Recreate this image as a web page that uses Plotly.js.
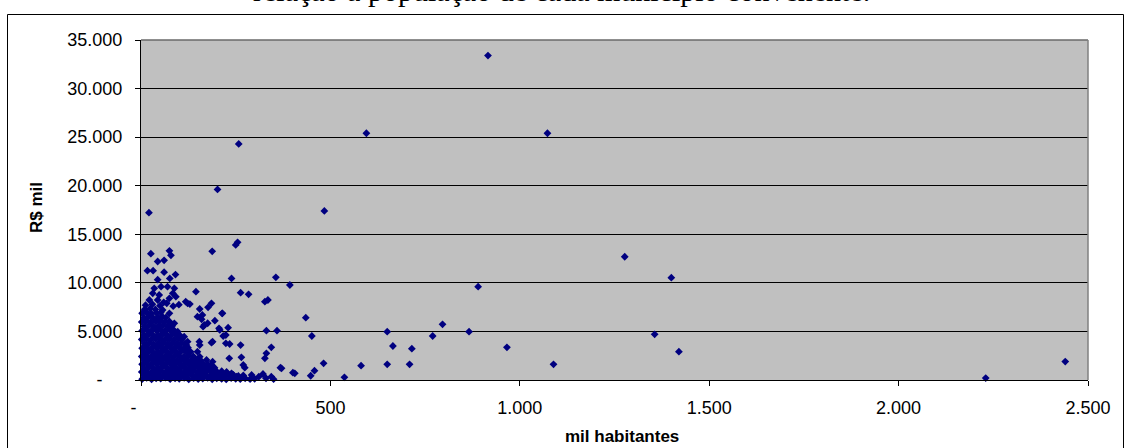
<!DOCTYPE html>
<html>
<head>
<meta charset="utf-8">
<script src="https://cdn.plot.ly/plotly-3.0.1.min.js"></script>
<style>
html,body{margin:0;padding:0;background:#fff;}
#chart{width:1124px;height:448px;}
</style>
</head>
<body>
<div id="chart"></div>
<script>
// Population (thousand inhabitants) of each municipality - dense cluster near origin
const popCluster = [
3,15,28,40,52,65,77,90,101,114,126,139,151,163,176,188,200,213,225,238,250,262,275,288,300,330,350,
9,21,34,46,58,71,83,96,108,120,132,145,157,170,182,194,207,219,232,244,257,270,
2,14,27,39,52,64,76,89,101,113,126,138,150,163,175,187,200,213,226,
8,20,33,45,57,70,82,94,107,119,131,144,156,168,181,194,
3,15,27,40,52,64,77,89,101,114,126,138,151,163,176,
9,21,33,46,58,70,83,95,107,120,132,145,157,
2,14,26,39,51,63,76,88,100,113,125,138,
8,20,32,45,57,69,82,94,106,119,131,
3,15,27,40,52,64,77,89,101,114,124,
9,21,33,46,58,70,83,95,107,116,
2,14,26,39,51,63,76,88,100,108,
8,20,32,45,57,69,82,94,101,
3,15,27,40,52,64,77,88,
9,21,33,46,58,70,82,
2,14,26,39,51,63,75,
8,20,32,45,57,66,
3,15,27,40,52,
10,24,38
];
// Amount (R$ thousand) for the dense cluster
const valCluster = [
90,210,60,180,140,240,80,170,120,220,60,190,100,150,230,70,180,110,60,200,130,80,170,90,120,180,90,
460,520,410,560,480,430,540,470,510,420,570,450,500,530,440,490,560,430,480,520,410,470,
830,900,790,870,940,810,880,850,920,780,860,900,820,880,940,800,860,910,830,
1220,1290,1180,1260,1330,1200,1270,1240,1300,1190,1260,1310,1230,1280,1200,1260,
1620,1690,1600,1660,1720,1630,1680,1610,1700,1650,1620,1690,1640,1700,1610,
2030,2090,2010,2070,2110,2040,2080,2020,2100,2050,2010,2080,2040,
2420,2490,2400,2470,2510,2430,2480,2440,2500,2410,2470,2440,
2870,2930,2850,2910,2960,2880,2920,2860,2940,2890,2900,
3280,3340,3260,3320,3360,3290,3330,3270,3350,3300,3320,
3720,3780,3700,3760,3800,3730,3770,3710,3790,3740,
4170,4230,4150,4210,4250,4180,4220,4160,4240,4200,
4620,4690,4600,4660,4700,4630,4680,4610,4660,
5070,5140,5050,5110,5150,5080,5130,5090,
5520,5590,5500,5560,5600,5530,5570,
5970,6040,5950,6010,6050,5980,6020,
6420,6490,6400,6460,6500,6440,
6870,6940,6850,6910,6950,
7280,7350,7260
];
// Remaining (individually visible) municipalities
const popSpread = [
21,202,258,595,1073,916,484,255,250,188,26,75,79,44,61,17,32,61,91,76,44,239,356,393,
35,53,70,88,31,48,84,22,44,75,92,145,118,129,186,177,155,263,284,327,335,
12,30,50,68,85,100,60,214,162,149,160,195,176,167,164,230,206,208,217,224,331,359,
114,123,154,189,186,224,234,263,120,155,344,331,327,265,233,149,155,173,189,186,164,138,
270,274,368,195,213,239,252,292,311,322,344,401,371,406,448,458,482,537,581,
650,665,650,715,709,770,796,866,890,966,1089,1277,1400,1356,1420,435,451,2230,2440,
97,75,57,88,123,215
];
const valSpread = [
17220,19620,24300,25400,25400,33400,17400,14170,13900,13250,13000,13300,12830,12200,12320,11250,11250,11100,10850,10460,10330,10460,10570,9780,
9440,9610,9610,9440,8920,8750,8920,8235,8235,8410,8580,9090,8060,7820,7895,7480,7310,8990,8820,8060,8235,
7700,7800,7650,7900,7600,7750,8000,6860,6690,6520,6245,6105,5840,5660,5490,5385,5320,5150,4530,4630,5080,5080,
4460,3945,3945,3945,3840,3775,3705,3600,3600,3600,3360,2745,2230,2330,2230,2915,2400,2060,1885,1545,1370,1715,
1545,1270,1270,1030,620,690,340,515,340,620,340,755,1200,690,440,960,1715,275,1475,
4975,3500,1612,3225,1612,4530,5730,4975,9605,3364,1613,12690,10530,4700,2915,6415,4530,200,1900,
4975,6865,7205,5835,7895,6860
];

const xTickVals = [0,500,1000,1500,2000,2500];
const xTickText = ['-\u00a0\u00a0\u00a0','500','1.000','1.500','2.000','2.500'];
const yTickVals = [0,5000,10000,15000,20000,25000,30000,35000];
const yTickText = ['-\u00a0\u00a0\u00a0\u00a0','5.000','10.000','15.000','20.000','25.000','30.000','35.000'];

const chartTitle = 'relação à população de cada município convenente.';
const xTitle = 'mil habitantes';
const yTitle = 'R$ mil';

const FONT = 'Liberation Sans, Arial, sans-serif';

const trace = {
  type: 'scatter',
  mode: 'markers',
  x: popCluster.concat(popSpread),
  y: valCluster.concat(valSpread),
  cliponaxis: false,
  marker: {symbol: 'diamond', size: 6, color: '#000080', line: {width: 0}},
  hoverinfo: 'x+y'
};

const L = 141, T = 40, W = 947, H = 340;
const px2paperX = p => (p - L) / W;
const px2paperY = p => (T + H - p) / H;

const layout = {
  width: 1124, height: 448,
  margin: {l: L, r: 1124 - L - W, t: T, b: 448 - T - H, pad: 0},
  paper_bgcolor: '#ffffff',
  plot_bgcolor: '#c0c0c0',
  showlegend: false,
  font: {family: FONT, size: 18, color: '#000'},
  xaxis: {
    range: [0, 2500], tickvals: xTickVals, ticktext: xTickText,
    ticks: 'outside', ticklen: 5, tickwidth: 1, tickcolor: '#000',
    ticklabelstandoff: 6,
    showline: true, linecolor: '#000', linewidth: 1,
    showgrid: false, zeroline: false, fixedrange: true,
    tickfont: {family: FONT, size: 18, color: '#000'}
  },
  yaxis: {
    range: [0, 35000], tickvals: yTickVals, ticktext: yTickText,
    ticks: 'outside', ticklen: 5, tickwidth: 1, tickcolor: '#000',
    ticklabelstandoff: 9,
    showline: true, linecolor: '#000', linewidth: 1,
    showgrid: true, gridcolor: '#000', gridwidth: 1,
    zeroline: false, fixedrange: true,
    tickfont: {family: FONT, size: 18, color: '#000'}
  },
  annotations: [
    {text: chartTitle, xref: 'paper', yref: 'paper', x: px2paperX(561), y: px2paperY(9),
     xanchor: 'center', yanchor: 'bottom', showarrow: false,
     font: {family: 'Liberation Serif, Times New Roman, serif', size: 30, color: '#000'}},
    {text: '<b>' + xTitle + '</b>', xref: 'paper', yref: 'paper', x: px2paperX(622), y: px2paperY(436),
     xanchor: 'center', yanchor: 'middle', showarrow: false,
     font: {family: FONT, size: 17, color: '#000'}},
    {text: '<b>' + yTitle + '</b>', xref: 'paper', yref: 'paper', x: px2paperX(36), y: px2paperY(208),
     xanchor: 'center', yanchor: 'middle', textangle: -90, showarrow: false,
     font: {family: FONT, size: 17, color: '#000'}}
  ],
  shapes: [
    {type: 'rect', xref: 'paper', yref: 'paper', x0: px2paperX(7.5), x1: px2paperX(1123.5),
     y0: px2paperY(470), y1: px2paperY(14.5), line: {color: '#000', width: 1}, fillcolor: 'rgba(0,0,0,0)', layer: 'above'},
    {type: 'line', xref: 'paper', yref: 'paper', x0: 0, x1: 1, y0: 1, y1: 1, line: {color: '#6a6a6a', width: 1.5}, layer: 'above'},
    {type: 'line', xref: 'paper', yref: 'paper', x0: 1, x1: 1, y0: 0, y1: 1, line: {color: '#808080', width: 1.5}, layer: 'above'}
  ]
};

Plotly.newPlot('chart', [trace], layout, {displayModeBar: false, staticPlot: true});
</script>
</body>
</html>
